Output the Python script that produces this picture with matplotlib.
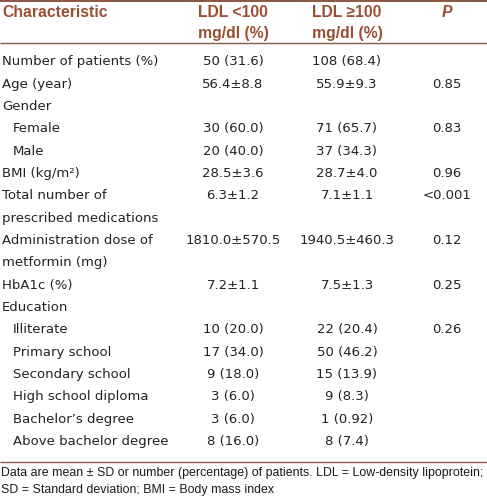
import matplotlib
matplotlib.use("Agg")
import matplotlib.pyplot as plt

# ---- data ----
characteristics = [
    "Number of patients (%)", "Age (year)", "Gender", "Female", "Male",
    "BMI (kg/m²)", "Total number of", "prescribed medications",
    "Administration dose of", "metformin (mg)", "HbA1c (%)", "Education",
    "Illiterate", "Primary school", "Secondary school", "High school diploma",
    "Bachelor’s degree", "Above bachelor degree",
]
indented = [False, False, False, True, True, False, False, False, False, False,
            False, False, True, True, True, True, True, True]
ldl_lt100 = ["50 (31.6)", "56.4±8.8", "", "30 (60.0)", "20 (40.0)", "28.5±3.6",
             "6.3±1.2", "", "1810.0±570.5", "", "7.2±1.1", "", "10 (20.0)",
             "17 (34.0)", "9 (18.0)", "3 (6.0)", "3 (6.0)", "8 (16.0)"]
ldl_ge100 = ["108 (68.4)", "55.9±9.3", "", "71 (65.7)", "37 (34.3)", "28.7±4.0",
             "7.1±1.1", "", "1940.5±460.3", "", "7.5±1.3", "", "22 (20.4)",
             "50 (46.2)", "15 (13.9)", "9 (8.3)", "1 (0.92)", "8 (7.4)"]
p_values = ["", "0.85", "", "0.83", "", "0.96", "<0.001", "", "0.12", "",
            "0.25", "", "0.26", "", "", "", "", ""]
header = ["Characteristic", "LDL <100\nmg/dl (%)", "LDL ≥100\nmg/dl (%)", "P"]
footnote = ["Data are mean ± SD or number (percentage) of patients. LDL = Low-density lipoprotein;",
            "SD = Standard deviation; BMI = Body mass index"]

W, H = 487, 497
fig = plt.figure(figsize=(W / 72, H / 72), dpi=72)
ax = fig.add_axes([0, 0, 1, 1])
ax.set_xlim(0, W)
ax.set_ylim(H, 0)
ax.axis("off")

brown_text = "#9a4e33"
brown_line = "#8a5a44"
body_font = ["DejaVu Sans"]
head_font = ["Liberation Sans", "DejaVu Sans"]
body_size = 13.2
head_size = 15.8

col_x = [2, 233, 347, 447]

# rules
ax.plot([0, W], [0.8, 0.8], color=brown_line, lw=2.0, solid_capstyle="butt")
ax.plot([0, W], [43, 43], color=brown_line, lw=1.4, solid_capstyle="butt")
ax.plot([0, W], [461.5, 461.5], color=brown_line, lw=1.4, solid_capstyle="butt")

# header text
ax.text(col_x[0], 12.7, header[0], ha="left", va="center", fontsize=head_size,
        fontweight="bold", color=brown_text, family=head_font)
for j in (1, 2):
    l1, l2 = header[j].split("\n")
    ax.text(col_x[j], 12.7, l1, ha="center", va="center", fontsize=head_size,
            fontweight="bold", color=brown_text, family=head_font)
    ax.text(col_x[j], 33.5, l2, ha="center", va="center", fontsize=head_size,
            fontweight="bold", color=brown_text, family=head_font)
ax.text(col_x[3], 12.7, header[3], ha="center", va="center", fontsize=head_size,
        fontweight="bold", fontstyle="italic", color=brown_text, family=head_font)

# body
y0, pitch = 61.7, 22.35
for i, name in enumerate(characteristics):
    y = y0 + pitch * i
    x = col_x[0] + (11 if indented[i] else 0)
    ax.text(x, y, name, ha="left", va="center", fontsize=body_size,
            color="#222222", family=body_font)
    for j, col in ((1, ldl_lt100), (2, ldl_ge100), (3, p_values)):
        if col[i]:
            ax.text(col_x[j], y, col[i], ha="center", va="center",
                    fontsize=body_size, color="#222222", family=body_font)

# footnote
ax.text(1, 473, footnote[0], ha="left", va="center", fontsize=12.4,
        color="#1a1a1a", family=head_font)
ax.text(1, 489.5, footnote[1], ha="left", va="center", fontsize=12.4,
        color="#1a1a1a", family=head_font)

fig.savefig("out.png", dpi=72, facecolor="white")
